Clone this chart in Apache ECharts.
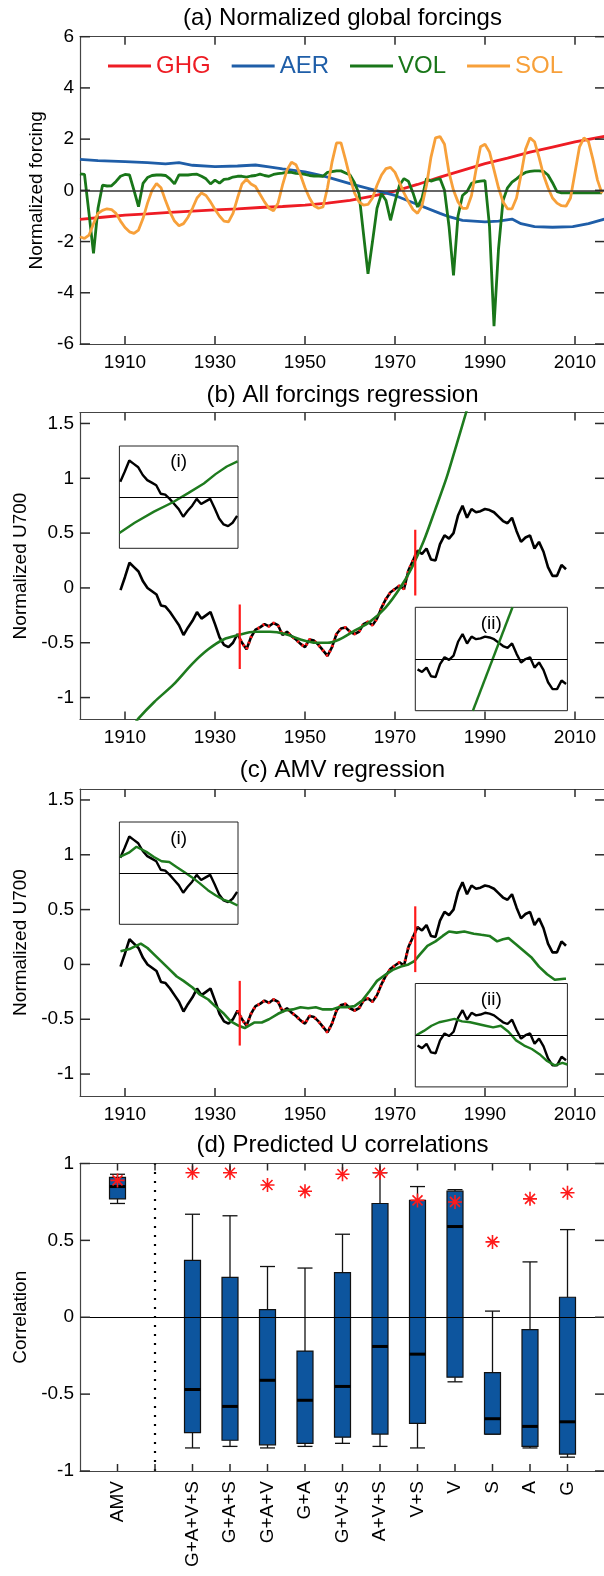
<!DOCTYPE html>
<html><head><meta charset="utf-8">
<script src="https://cdn.jsdelivr.net/npm/echarts@6/dist/echarts.min.js"></script>
<style>html,body{margin:0;padding:0;background:#fff}#c{width:604px;height:1576px}</style>
</head><body><div id="c"></div>
<script>
// ---------------- DATA ----------------
const yearTicks = [1910, 1930, 1950, 1970, 1990, 2010];
const forcingTicks = [-6, -4, -2, 0, 2, 4, 6];
const u700Ticks = [-1, -0.5, 0, 0.5, 1, 1.5];
const corrTicks = [-1, -0.5, 0, 0.5, 1];

// (a) forcings
const ghgYears = [1900,1905,1910,1915,1920,1925,1930,1935,1940,1945,1950,1955,1960,1965,1970,1975,1980,1985,1990,1995,2000,2005,2010,2017];
const ghgValues = [-1.13,-1.05,-0.97,-0.92,-0.86,-0.81,-0.76,-0.72,-0.67,-0.63,-0.58,-0.5,-0.39,-0.23,-0.03,0.23,0.52,0.78,1.04,1.26,1.49,1.69,1.89,2.12];
const aerYears = [1900,1904,1910,1915,1919,1922,1925,1930,1935,1939,1942,1945,1950,1953,1955,1960,1965,1970,1975,1980,1982,1985,1990,1993,1996,1998,2001,2005,2009.5,2013,2017];
const aerValues = [1.21,1.16,1.12,1.08,1.03,1.08,0.98,0.93,0.95,0.99,0.92,0.84,0.72,0.6,0.52,0.26,0.03,-0.2,-0.55,-0.9,-1.03,-1.17,-1.23,-1.2,-1.12,-1.3,-1.42,-1.44,-1.42,-1.3,-1.1];
const annualStart = 1900;
const volValues = [
 0.64,0.62,-0.9,-2.46,-0.7,0.2,0.17,0.18,0.35,0.55,
 0.62,0.6,0.0,-0.64,0.27,0.5,0.58,0.6,0.6,0.58,
 0.45,0.25,0.6,0.6,0.6,0.62,0.63,0.55,0.45,0.25,
 0.4,0.28,0.43,0.45,0.52,0.55,0.55,0.52,0.56,0.58,
 0.63,0.58,0.55,0.62,0.65,0.67,0.71,0.7,0.66,0.65,
 0.62,0.58,0.56,0.56,0.55,0.7,0.73,0.76,0.76,0.68,
 0.6,0.3,-0.13,-1.7,-3.26,-2.0,-0.7,-0.13,-0.4,-1.17,
 -0.45,0.2,0.46,0.35,-0.1,-0.65,-0.3,0.46,0.36,0.42,
 0.46,0.0,-1.4,-3.32,-1.0,-0.2,-0.05,0.27,0.33,0.36,
 0.38,-1.4,-5.3,-2.3,-0.4,0.1,0.32,0.45,0.6,0.7,
 0.74,0.76,0.76,0.74,0.6,0.3,-0.05,-0.1,-0.1,-0.1,
 -0.1,-0.1,-0.1,-0.1,-0.1,-0.1,-0.1];
const solValues = [
 -1.81,-1.88,-1.75,-1.3,-0.9,-0.78,-0.72,-0.75,-0.9,-1.2,
 -1.45,-1.62,-1.68,-1.55,-1.1,-0.5,0.0,0.27,0.1,-0.4,
 -0.85,-1.2,-1.38,-1.3,-1.05,-0.7,-0.3,-0.1,-0.2,-0.45,
 -0.75,-1.0,-1.2,-1.23,-0.9,-0.3,0.25,0.43,0.25,0.15,
 -0.15,-0.45,-0.7,-0.8,-0.5,0.2,0.8,1.1,1.0,0.6,
 0.1,-0.3,-0.6,-0.7,-0.65,0.1,1.1,1.85,1.85,1.2,
 0.5,-0.1,-0.45,-0.58,-0.55,-0.3,0.2,0.6,0.85,0.9,
 0.7,0.3,-0.1,-0.45,-0.75,-0.9,-0.6,0.2,1.3,2.05,
 2.1,1.8,0.7,0.0,-0.45,-0.7,-0.7,-0.2,0.8,1.7,
 1.8,1.5,0.8,0.1,-0.45,-0.72,-0.72,-0.3,0.6,1.6,
 2.05,1.9,1.3,0.6,0.1,-0.3,-0.5,-0.6,-0.62,-0.3,
 0.7,1.7,2.05,1.9,1.2,0.4,-0.12];

// (b),(c) observed U700, 1909-2008
const u700Start = 1909;
const u700Values = [
 -0.02,0.1,0.23,0.19,0.15,0.06,0.0,-0.03,-0.06,-0.16,
 -0.17,-0.22,-0.28,-0.34,-0.43,-0.36,-0.3,-0.22,-0.28,-0.25,
 -0.22,-0.33,-0.45,-0.52,-0.54,-0.5,-0.42,-0.5,-0.56,-0.45,
 -0.38,-0.36,-0.33,-0.35,-0.32,-0.34,-0.43,-0.4,-0.44,-0.47,
 -0.51,-0.54,-0.47,-0.48,-0.52,-0.57,-0.62,-0.54,-0.42,-0.37,
 -0.36,-0.4,-0.42,-0.4,-0.33,-0.31,-0.34,-0.28,-0.18,-0.1,
 -0.04,-0.01,0.02,-0.01,0.16,0.25,0.34,0.31,0.36,0.26,
 0.25,0.4,0.48,0.45,0.5,0.66,0.75,0.64,0.72,0.69,
 0.7,0.72,0.71,0.69,0.65,0.61,0.59,0.64,0.52,0.42,
 0.46,0.48,0.36,0.42,0.33,0.19,0.11,0.11,0.21,0.17];
const fitPeriod = [1935, 1975];
const breakYears = [1935.5, 1974.5];
const breakLow = [-0.74, -0.07];
const breakHigh = [-0.15, 0.53];

// (b) all-forcings regression
const allFitYears = [1912,1913,1916.5,1920.8,1925,1928.5,1931.9,1935.3,1938.7,1942.2,1945.6,1949,1952.4,1955,1957.6,1961,1964.4,1967.9,1971.3,1973.8,1976.4,1978.9,1981.5,1983.7,1985.8,1987];
const allFitValues = [-1.25,-1.19,-1.04,-0.88,-0.69,-0.56,-0.47,-0.43,-0.4,-0.4,-0.42,-0.47,-0.5,-0.5,-0.47,-0.39,-0.31,-0.18,0.01,0.19,0.43,0.71,1.01,1.31,1.6,1.78];
const allInsetEarlyYears = [1908.8,1912.2,1916.5,1920.7,1924.2,1927.6,1930.2,1932.7,1935.1];
const allInsetEarlyValues = [-0.62,-0.5,-0.37,-0.26,-0.15,-0.04,0.07,0.16,0.22];
const allInsetLateYears = [1987.3,1996.1];
const allInsetLateValues = [-0.14,1.06];

// (c) AMV regression
const amvFitYears = [1909,1911,1912,1913.5,1915,1916.5,1918,1920,1921.5,1923,1925,1926.5,1928.5,1930,1932,1933.5,1935.3,1936.6,1938.7,1940.4,1942,1944,1945.6,1947.3,1949,1950.7,1952.4,1954,1956,1957.5,1959.3,1961,1962.7,1964.4,1966,1968,1969.5,1971.3,1973,1974.3,1975.5,1977.2,1979,1980.6,1982,1983.7,1985.4,1987.5,1989.2,1991,1992.7,1994,1995.2,1997,1998.7,2000.4,2002,2003.8,2005.5,2007.6,2008];
const amvFitValues = [0.12,0.14,0.16,0.19,0.15,0.09,0.03,-0.05,-0.11,-0.15,-0.21,-0.27,-0.32,-0.38,-0.45,-0.52,-0.56,-0.58,-0.53,-0.53,-0.5,-0.45,-0.42,-0.41,-0.39,-0.4,-0.39,-0.41,-0.41,-0.39,-0.39,-0.38,-0.33,-0.24,-0.15,-0.09,-0.05,-0.02,0.0,0.03,0.09,0.17,0.21,0.26,0.3,0.29,0.3,0.28,0.27,0.26,0.21,0.23,0.24,0.18,0.12,0.06,-0.02,-0.09,-0.14,-0.13,-0.13];
const amvInsetEarlyYears = [1908.9,1910.9,1912.6,1914.8,1916.5,1918.2,1919.9,1921.6,1923.3,1925,1926.7,1928.5,1930.2,1931.9,1933.6,1935.1];
const amvInsetEarlyValues = [-0.01,0.04,0.11,0.05,-0.01,-0.06,-0.07,-0.13,-0.19,-0.25,-0.32,-0.4,-0.46,-0.51,-0.54,-0.58];
const amvInsetLateYears = [1974.7,1976.4,1978.1,1979.8,1981.5,1983.2,1984.9,1986.7,1988.4,1990.1,1991.8,1993.5,1995.2,1996.9,1998.7,2000.4,2002.1,2003.8,2005.5,2007.2,2008.3];
const amvInsetLateValues = [0.46,0.51,0.57,0.61,0.63,0.65,0.62,0.61,0.59,0.57,0.55,0.57,0.5,0.4,0.34,0.3,0.24,0.16,0.11,0.14,0.12];
const insetEarlyMean = -0.2;
const insetLateMean = 0.46;

// (d) predicted U correlations
const dCategories = ['AMV','G+A+V+S','G+A+S','G+A+V','G+A','G+V+S','A+V+S','V+S','V','S','A','G'];
const whiskerHigh = [0.93,0.67,0.66,0.33,0.32,0.54,0.94,0.85,0.83,0.04,0.36,0.57];
const boxHigh     = [0.91,0.37,0.26,0.05,-0.22,0.29,0.74,0.76,0.82,-0.36,-0.08,0.13];
const medians     = [0.85,-0.47,-0.58,-0.41,-0.54,-0.45,-0.19,-0.24,0.59,-0.66,-0.71,-0.68];
const boxLow      = [0.77,-0.75,-0.8,-0.83,-0.82,-0.78,-0.76,-0.69,-0.39,-0.76,-0.84,-0.89];
const whiskerLow  = [0.74,-0.85,-0.84,-0.85,-0.84,-0.82,-0.84,-0.85,-0.42,-0.76,-0.85,-0.91];
const observedCorr= [0.89,0.94,0.94,0.86,0.82,0.93,0.94,0.76,0.75,0.49,0.77,0.81];

// ---------------- BUILD ----------------
const FONT = "'Liberation Sans', Arial, Helvetica, sans-serif";
const FRAME = '#444';
const C = {ghg:'#ee1c24', aer:'#1f5ea8', vol:'#197619', sol:'#f7a03a', fit:'#1e7b1e', red:'#ff1a1a', box:'#0d559e'};
const zip = (xs, ys) => xs.map((x, i) => [x, ys[i]]);
const annual = (start, vals) => vals.map((v, i) => [start + i, v]);
const u700 = annual(u700Start, u700Values);
const u700Fit = u700.filter(p => p[0] >= fitPeriod[0] && p[0] <= fitPeriod[1]);
const u700Early = u700.filter(p => p[0] <= 1935);
const u700Late = u700.filter(p => p[0] >= 1975);
const XMIN = 1900, XMAX = 1900 + 525 / 4.5;
const INSETS = [2,3,5,6];

const grids = [
  {left:80, top:36.7, width:525, height:307.3},
  {left:80, top:412.5, width:525, height:307},
  {left:119.4, top:446, width:118.6, height:102.3},
  {left:415.3, top:607.3, width:152.1, height:103.4},
  {left:80, top:789, width:525, height:307},
  {left:119.4, top:822, width:118.6, height:102.3},
  {left:415.3, top:983.5, width:152.1, height:103.4},
  {left:80, top:1163.5, width:525, height:307.5}
].map((g, i) => Object.assign(g, {show: INSETS.includes(i), borderColor:'#222', borderWidth:1,
  backgroundColor:'#fff', containLabel:false, outerBoundsMode:'none'}));

const frameLine = {show:true, onZero:false, lineStyle:{color:FRAME, width:1.2}};
const labelStyle = {fontSize:19, color:'#000', fontFamily:FONT};
const plain = v => String(v);
function xYear(gi, pos, labels) {
  return {type:'value', gridIndex:gi, position:pos, min:XMIN, max:XMAX, axisLine:frameLine, splitLine:{show:false},
    axisTick:{show:false},
    axisLabel:Object.assign({show:labels, customValues:yearTicks, margin:9, formatter:plain}, labelStyle)};
}
function yVal(gi, pos, labels, min, max, ticks, name, gap) {
  return {type:'value', gridIndex:gi, position:pos, min, max, axisLine:frameLine, splitLine:{show:false},
    axisTick:{show:false},
    axisLabel:Object.assign({show:labels, customValues:ticks, margin:6, formatter:plain}, labelStyle),
    name: name || '', nameLocation:'middle', nameRotate:90, nameGap: gap || 0,
    nameTextStyle:{fontSize:19, color:'#000', fontFamily:FONT}};
}
function hidden(gi, min, max) { return {type:'value', gridIndex:gi, min, max, show:false, axisLine:{onZero:false}}; }

const dPos = dCategories.map((c, i) => i === 0 ? 0 : i + 1);
const dTickVals = [0,1,2,3,4,5,6,7,8,9,10,11,12];

const xAxis = [
  xYear(0,'bottom',true), xYear(0,'top',false),
  xYear(1,'bottom',true), xYear(1,'top',false),
  hidden(2,1908.8,1935.2), hidden(3,1974.5,2008.3),
  xYear(4,'bottom',true), xYear(4,'top',false),
  hidden(5,1908.8,1935.2), hidden(6,1974.5,2008.3),
  {type:'value', gridIndex:7, position:'bottom', min:-1, max:13, axisLine:frameLine, splitLine:{show:false},
   axisTick:{show:false},
   axisLabel:Object.assign({customValues:dPos, rotate:90, margin:10,
     formatter: v => dCategories[dPos.indexOf(v)] || ''}, labelStyle)},
  {type:'value', gridIndex:7, position:'top', min:-1, max:13, axisLine:frameLine, splitLine:{show:false},
   axisTick:{show:false}, axisLabel:{show:false}}
];
const yAxis = [
  yVal(0,'left',true,-6,6,forcingTicks,'Normalized forcing',34), yVal(0,'right',false,-6,6,forcingTicks),
  yVal(1,'left',true,-1.2,1.6,u700Ticks,'Normalized U700',48), yVal(1,'right',false,-1.2,1.6,u700Ticks),
  hidden(2,-0.8,0.4), hidden(3,-0.14,1.06),
  yVal(4,'left',true,-1.2,1.6,u700Ticks,'Normalized U700',48), yVal(4,'right',false,-1.2,1.6,u700Ticks),
  hidden(5,-0.8,0.4), hidden(6,-0.14,1.06),
  yVal(7,'left',true,-1,1,corrTicks,'Correlation',48),
  yVal(7,'right',false,-1,1,corrTicks)
];

function line(ax, data, color, width, extra) {
  return Object.assign({type:'line', xAxisIndex:ax, yAxisIndex:ax, data, symbol:'none', showSymbol:false,
    lineStyle:{color, width}, itemStyle:{color}, silent:true, z:3}, extra || {});
}
function hline(ax, y, color, width, type) {
  return {type:'line', xAxisIndex:ax, yAxisIndex:ax, data:[], silent:true, z:2,
    markLine:{silent:true, symbol:'none', animation:false, label:{show:false},
      lineStyle:{color, width, type: type || 'solid'}, data:[{yAxis:y}]}};
}
// inward tick marks on all four sides (small filled bars), positioned through the axes' scales
const TICK_FILL = '#2a2a2a', TW = 1.5;
function xTicks(ax, vals, yMin, yMax, len) {
  return {type:'custom', xAxisIndex:ax, yAxisIndex:ax, silent:true, z:10, clip:false,
    data: vals.map(v => [v, yMin, yMax]),
    renderItem: (params, api) => {
      const b = api.coord([api.value(0), api.value(1)]);
      const t = api.coord([api.value(0), api.value(2)]);
      return {type:'group', children:[
        {type:'rect', shape:{x:b[0] - TW/2, y:b[1] - len, width:TW, height:len}, style:{fill:TICK_FILL}},
        {type:'rect', shape:{x:t[0] - TW/2, y:t[1], width:TW, height:len}, style:{fill:TICK_FILL}}]};
    }};
}
function yTicks(ax, vals, xMin, xMax, len) {
  return {type:'custom', xAxisIndex:ax, yAxisIndex:ax, silent:true, z:10, clip:false,
    data: vals.map(v => [xMin, v, xMax]),
    renderItem: (params, api) => {
      const l = api.coord([api.value(0), api.value(1)]);
      const r = api.coord([api.value(2), api.value(1)]);
      return {type:'group', children:[
        {type:'rect', shape:{x:l[0], y:l[1] - TW/2, width:len, height:TW}, style:{fill:TICK_FILL}},
        {type:'rect', shape:{x:r[0] - len, y:r[1] - TW/2, width:len, height:TW}, style:{fill:TICK_FILL}}]};
    }};
}

const series = [];
// (a)
series.push(hline(0, 0, '#333', 1.5));
series.push(line(0, zip(ghgYears, ghgValues), C.ghg, 2.8, {name:'GHG'}));
series.push(line(0, zip(aerYears, aerValues), C.aer, 2.8, {name:'AER'}));
series.push(line(0, annual(annualStart, volValues), C.vol, 2.8, {name:'VOL'}));
series.push(line(0, annual(annualStart, solValues), C.sol, 2.8, {name:'SOL'}));
series.push(xTicks(0, yearTicks, -6, 6, 8), yTicks(0, forcingTicks, XMIN, XMAX, 10));

function regressionPanel(ax, axI, axII, fitYears, fitValues, smoothFit, earlyY, earlyV, lateY, lateV) {
  series.push(line(ax, u700, '#000', 2.6));
  series.push(line(ax, u700Fit, C.red, 3, {lineStyle:{color:C.red, width:3, type:[2,4]}, z:4}));
  series.push(line(ax, zip(fitYears, fitValues), C.fit, 2.6, {smooth: smoothFit ? 0.3 : false, z:5}));
  breakYears.forEach((yr, i) => series.push(line(ax, [[yr, breakLow[i]], [yr, breakHigh[i]]], C.red, 2.2, {z:6})));
  series.push(xTicks(ax, yearTicks, -1.2, 1.6, 8), yTicks(ax, u700Ticks, XMIN, XMAX, 10));
  series.push(hline(axI, insetEarlyMean, '#000', 1));
  series.push(line(axI, u700Early, '#000', 2.4));
  series.push(line(axI, zip(earlyY, earlyV), C.fit, 2.4));
  series.push(hline(axII, insetLateMean, '#000', 1));
  series.push(line(axII, u700Late, '#000', 2.4));
  series.push(line(axII, zip(lateY, lateV), C.fit, 2.4));
}
regressionPanel(2, 4, 5, allFitYears, allFitValues, true, allInsetEarlyYears, allInsetEarlyValues, allInsetLateYears, allInsetLateValues);
regressionPanel(6, 8, 9, amvFitYears, amvFitValues, false, amvInsetEarlyYears, amvInsetEarlyValues, amvInsetLateYears, amvInsetLateValues);

// (d)
series.push(hline(10, 0, '#000', 1.2));
series.push({type:'line', xAxisIndex:10, yAxisIndex:10, data:[], silent:true, z:2,
  markLine:{silent:true, symbol:'none', animation:false, label:{show:false},
    lineStyle:{color:'#000', width:2.2, type:[2,7]}, data:[{xAxis:1}]}});
series.push(xTicks(10, dTickVals, -1, 1, 7), yTicks(10, corrTicks, -1, 13, 10));
const boxData = dCategories.map((c, i) => [dPos[i], whiskerLow[i], boxLow[i], medians[i], boxHigh[i], whiskerHigh[i]]);
series.push({type:'custom', xAxisIndex:10, yAxisIndex:10, data:boxData, silent:true, z:3,
  renderItem: (params, api) => {
    const x = api.value(0);
    const lo = api.coord([x, api.value(1)]), q1 = api.coord([x, api.value(2)]), md = api.coord([x, api.value(3)]),
          q3 = api.coord([x, api.value(4)]), hi = api.coord([x, api.value(5)]);
    const cx = lo[0], hw = 8, cw = 7.5;
    const st = {stroke:'#111', lineWidth:1.3};
    return {type:'group', children:[
      {type:'line', shape:{x1:cx, y1:hi[1], x2:cx, y2:q3[1]}, style:st},
      {type:'line', shape:{x1:cx, y1:q1[1], x2:cx, y2:lo[1]}, style:st},
      {type:'line', shape:{x1:cx-cw, y1:hi[1], x2:cx+cw, y2:hi[1]}, style:st},
      {type:'line', shape:{x1:cx-cw, y1:lo[1], x2:cx+cw, y2:lo[1]}, style:st},
      {type:'rect', shape:{x:cx-hw, y:q3[1], width:2*hw, height:q1[1]-q3[1]}, style:{fill:C.box, stroke:'#111', lineWidth:1.2}},
      {type:'line', shape:{x1:cx-hw, y1:md[1], x2:cx+hw, y2:md[1]}, style:{stroke:'#000', lineWidth:3}}
    ]};
  }});
series.push({type:'scatter', xAxisIndex:10, yAxisIndex:10, data: zip(dPos, observedCorr), silent:true, z:6,
  symbol:'path://M7,0L7,14M0,7L14,7M2,2L12,12M2,12L12,2', symbolSize:14,
  itemStyle:{color:'rgba(0,0,0,0)', borderColor:C.red, borderWidth:1.6, opacity:1}});

const titleStyle = {fontSize:24, fontWeight:'normal', color:'#000', fontFamily:FONT};
const insetStyle = {fontSize:19, fontWeight:'normal', color:'#000', fontFamily:FONT};
function ttl(text, x, y, st) { return {text, left:x, top:y, textAlign:'center', textVerticalAlign:'middle', padding:0, textStyle:st}; }

const option = {
  animation:false,
  backgroundColor:'#fff',
  title:[
    ttl('(a) Normalized global forcings', 342.5, 18.5, titleStyle),
    ttl('(b) All forcings regression', 342.5, 395, titleStyle),
    ttl('(c) AMV regression', 342.5, 770.5, titleStyle),
    ttl('(d) Predicted U correlations', 342.5, 1145, titleStyle),
    ttl('(i)', 178.7, 462, insetStyle),
    ttl('(ii)', 491.3, 623.5, insetStyle),
    ttl('(i)', 178.7, 838.5, insetStyle),
    ttl('(ii)', 491.3, 999.5, insetStyle)
  ],
  legend:{left:103, top:49, itemWidth:43, itemHeight:3, itemGap:21, icon:'rect', selectedMode:false,
    textStyle:{fontSize:24, fontFamily:FONT},
    data:[{name:'GHG', textStyle:{color:C.ghg}}, {name:'AER', textStyle:{color:C.aer}},
          {name:'VOL', textStyle:{color:C.vol}}, {name:'SOL', textStyle:{color:C.sol}}]},
  grid: grids, xAxis, yAxis, series
};
const chart = echarts.init(document.getElementById('c'), null, {renderer:'canvas'});
chart.setOption(option);
</script></body></html>
